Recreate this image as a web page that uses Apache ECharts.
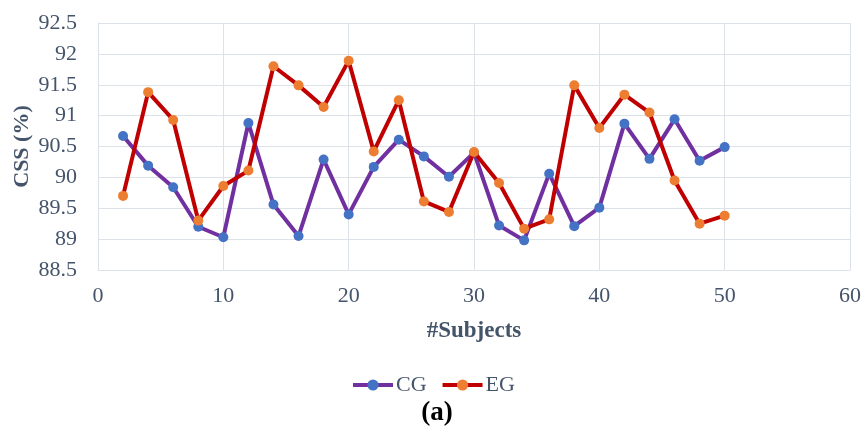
<!DOCTYPE html>
<html>
<head>
<meta charset="utf-8">
<script src="https://cdn.jsdelivr.net/npm/echarts@6/dist/echarts.min.js"></script>
<style>html,body{margin:0;padding:0;background:#fff;}#c{width:861px;height:427px;}</style>
</head>
<body>
<div id="c"></div>
<script>
const subjects = [2,4,6,8,10,12,14,16,18,20,22,24,26,28,30,32,34,36,38,40,42,44,46,48,50];
const cgValues = [90.67,90.19,89.84,89.20,89.03,90.88,89.56,89.05,90.29,89.40,90.17,90.61,90.34,90.01,90.40,89.22,88.98,90.06,89.21,89.51,90.87,90.30,90.94,90.27,90.49];
const egValues = [89.70,91.38,90.93,89.30,89.86,90.11,91.80,91.49,91.14,91.89,90.42,91.25,89.61,89.44,90.41,89.91,89.17,89.32,91.49,90.80,91.34,91.05,89.95,89.25,89.38];
const seriesNames = ['CG','EG'];
const xTitle = '#Subjects';
const yTitle = 'CSS (%)';
const caption = '(a)';

const font = 'Liberation Serif';
const txt = '#44546A';
const gridCol = '#dde1e8';

const chart = echarts.init(document.getElementById('c'), null, {renderer:'canvas'});
chart.setOption({
  animation: false,
  backgroundColor: '#fff',
  grid: {left: 98, right: 11, top: 23, bottom: 157, containLabel: false, outerBoundsMode: 'none'},
  legend: {
    left: 351, top: 374, padding: 0,
    itemWidth: 40, itemHeight: 14, itemGap: 14,
    lineStyle: {width: 4},
    itemStyle: {borderWidth: 0},
    textStyle: {fontFamily: font, fontSize: 22, color: txt, padding: [0,0,0,-2]},
    data: seriesNames
  },
  graphic: [{
    type: 'text', x: 437, y: 413,
    style: {text: caption, fontFamily: font, fontSize: 27, fontWeight: 'bold', fill: '#000', align: 'center', verticalAlign: 'middle'}
  }],
  xAxis: {
    type: 'value', min: 0, max: 60, interval: 10,
    name: xTitle, nameLocation: 'middle', nameGap: 50, nameMoveOverlap: false,
    nameTextStyle: {fontFamily: font, fontSize: 23, fontWeight: 'bold', color: txt},
    axisLine: {show: true, lineStyle: {color: gridCol, width: 1}},
    axisTick: {show: false},
    axisLabel: {fontFamily: font, fontSize: 22, color: txt, margin: 15},
    splitLine: {show: true, lineStyle: {color: gridCol, width: 1}}
  },
  yAxis: {
    type: 'value', min: 88.5, max: 92.5, interval: 0.5,
    name: yTitle, nameLocation: 'middle', nameGap: 65, nameRotate: 90, nameMoveOverlap: false,
    nameTextStyle: {fontFamily: font, fontSize: 22, fontWeight: 'bold', color: txt},
    axisLine: {show: true, lineStyle: {color: gridCol, width: 1}},
    axisTick: {show: false},
    axisLabel: {fontFamily: font, fontSize: 22, color: txt, margin: 21},
    splitLine: {show: true, lineStyle: {color: gridCol, width: 1}}
  },
  series: [
    {
      name: seriesNames[0], type: 'line',
      data: subjects.map((x,i)=>[x, cgValues[i]]),
      symbol: 'circle', symbolSize: 10,
      lineStyle: {color: '#7030A0', width: 4},
      itemStyle: {color: '#4472C4'},
      z: 2
    },
    {
      name: seriesNames[1], type: 'line',
      data: subjects.map((x,i)=>[x, egValues[i]]),
      symbol: 'circle', symbolSize: 10,
      lineStyle: {color: '#C00000', width: 4},
      itemStyle: {color: '#ED7D31'},
      z: 3
    }
  ]
});
</script>
</body>
</html>
